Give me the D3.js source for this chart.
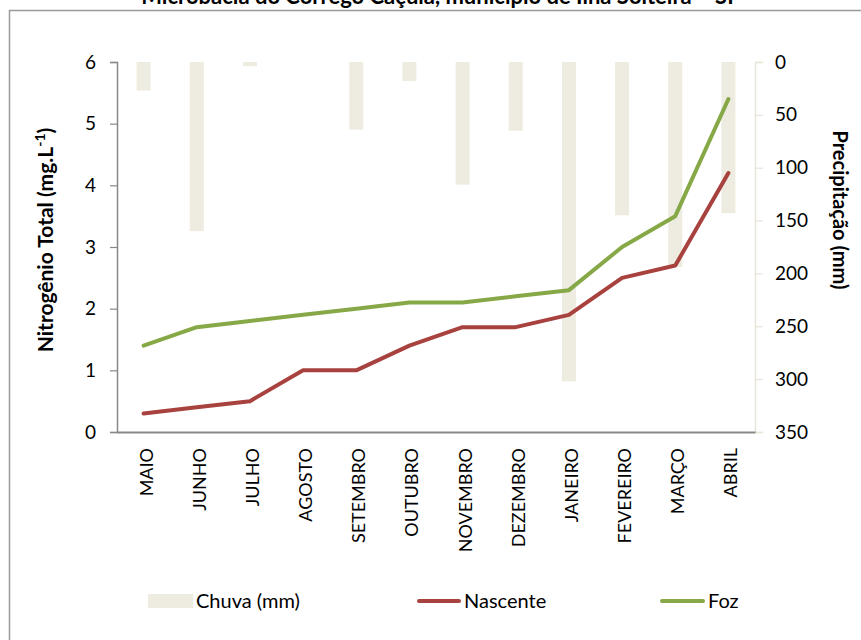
<!DOCTYPE html>
<html>
<head>
<meta charset="utf-8">
<script src="https://cdn.jsdelivr.net/npm/d3@7"></script>
<style>
  html, body { margin: 0; padding: 0; background: #fff; }
  svg { display: block; font-family: Lato, "Open Sans", sans-serif; }
</style>
</head>
<body>
<svg id="chart" width="861" height="640"></svg>
<script>
// Monthly categories (May to April)
const months = ["MAIO", "JUNHO", "JULHO", "AGOSTO", "SETEMBRO", "OUTUBRO",
                "NOVEMBRO", "DEZEMBRO", "JANEIRO", "FEVEREIRO", "MARÇO", "ABRIL"];
// Monthly rainfall (mm)
const chuva = [27, 160, 4, 0, 64, 18, 116, 65, 302, 145, 194, 143];
// Total nitrogen (mg/L) at the spring and at the mouth
const nascente = [0.3, 0.4, 0.5, 1.0, 1.0, 1.4, 1.7, 1.7, 1.9, 2.5, 2.7, 4.2];
const foz = [1.4, 1.7, 1.8, 1.9, 2.0, 2.1, 2.1, 2.2, 2.3, 3.0, 3.5, 5.4];
// Axis ticks
const leftTicks = [0, 1, 2, 3, 4, 5, 6];
const rightTicks = [0, 50, 100, 150, 200, 250, 300, 350];

const svg = d3.select("#chart");
const plot = { left: 117, right: 755, top: 62, bottom: 432 };

const colBar = "#EEEBE0", colNasc = "#A8423F", colFoz = "#86A847";

// Chart frame
svg.append("rect").attr("x", 9.5).attr("y", 10.5).attr("width", 900).attr("height", 700)
  .attr("fill", "#fff").attr("stroke", "#9a9a9a").attr("stroke-width", 1.5);

// Title (its upper part runs past the top of the page)
svg.append("text").attr("x", 441).attr("y", 4).attr("text-anchor", "middle")
  .attr("font-weight", "bold").attr("font-size", 22)
  .text("Microbacia do Córrego Caçula, município de Ilha Solteira – SP");

const x = d3.scaleBand().domain(months).range([plot.left, plot.right]);
const yL = d3.scaleLinear().domain([0, 6]).range([plot.bottom, plot.top]);
const yR = d3.scaleLinear().domain([0, 350]).range([plot.top, plot.bottom]);

// Rainfall bars hanging from the top (reversed right axis)
svg.append("g").selectAll("rect").data(chuva).join("rect")
  .attr("x", (d, i) => x(months[i]) + x.bandwidth() / 2 - 7)
  .attr("y", yR(0))
  .attr("width", 14)
  .attr("height", d => yR(d) - yR(0))
  .attr("fill", colBar);

// Left axis
const gL = svg.append("g").attr("transform", `translate(${plot.left},0)`)
  .call(d3.axisLeft(yL).tickValues(leftTicks).tickSize(7).tickPadding(14).tickFormat(d3.format("d")));
gL.select(".domain").attr("stroke", "#888").attr("stroke-width", 1.5);
gL.selectAll(".tick line").attr("stroke", "#888").attr("stroke-width", 1.2);
gL.selectAll("text").attr("font-size", 19).attr("fill", "#000").attr("font-family", "Lato, sans-serif");

// Right axis
const gR = svg.append("g").attr("transform", `translate(${plot.right},0)`)
  .call(d3.axisRight(yR).tickValues(rightTicks).tickSize(8).tickPadding(12));
gR.select(".domain").attr("stroke", "#E8E5D8").attr("stroke-width", 1.5);
gR.selectAll(".tick line").attr("stroke", "#E8E5D8").attr("stroke-width", 1.2);
gR.selectAll("text").attr("font-size", 19).attr("fill", "#000").attr("font-family", "Lato, sans-serif");

// Bottom axis with rotated month labels
const gB = svg.append("g").attr("transform", `translate(0,${plot.bottom})`)
  .call(d3.axisBottom(x).tickSize(0).tickPadding(0));
gB.select(".domain").attr("stroke", "#888").attr("stroke-width", 2);
gB.selectAll("text")
  .attr("font-size", 18).attr("fill", "#000").attr("font-family", "Lato, sans-serif")
  .attr("text-anchor", "end").attr("dy", null)
  .attr("transform", "translate(9,16) rotate(-90)");

// Lines
const line = d3.line().x((d, i) => x(months[i]) + x.bandwidth() / 2).y(d => yL(d));
svg.append("path").datum(nascente).attr("d", line).attr("fill", "none")
  .attr("stroke", colNasc).attr("stroke-width", 4).attr("stroke-linecap", "round").attr("stroke-linejoin", "round");
svg.append("path").datum(foz).attr("d", line).attr("fill", "none")
  .attr("stroke", colFoz).attr("stroke-width", 4).attr("stroke-linecap", "round").attr("stroke-linejoin", "round");

// Axis titles
const tl = svg.append("text").attr("transform", "translate(53,240) rotate(-90)")
  .attr("text-anchor", "middle").attr("font-weight", "bold").attr("font-size", 21);
tl.append("tspan").text("Nitrogênio Total (mg.L");
tl.append("tspan").attr("font-size", 14).attr("dy", -8).text("-1");
tl.append("tspan").attr("dy", 8).text(")");

svg.append("text").attr("transform", "translate(833,210) rotate(90)")
  .attr("text-anchor", "middle").attr("font-weight", "bold").attr("font-size", 20)
  .text("Precipitação (mm)");

// Legend
const lg = svg.append("g").attr("font-size", 20);
lg.append("rect").attr("x", 148).attr("y", 594).attr("width", 45).attr("height", 14).attr("fill", colBar);
lg.append("text").attr("x", 196).attr("y", 608).text("Chuva (mm)");
lg.append("line").attr("x1", 419).attr("x2", 459).attr("y1", 601).attr("y2", 601)
  .attr("stroke", colNasc).attr("stroke-width", 4).attr("stroke-linecap", "round");
lg.append("text").attr("x", 464).attr("y", 608).text("Nascente");
lg.append("line").attr("x1", 662).attr("x2", 703).attr("y1", 601).attr("y2", 601)
  .attr("stroke", colFoz).attr("stroke-width", 4).attr("stroke-linecap", "round");
lg.append("text").attr("x", 708).attr("y", 608).text("Foz");
</script>
</body>
</html>
